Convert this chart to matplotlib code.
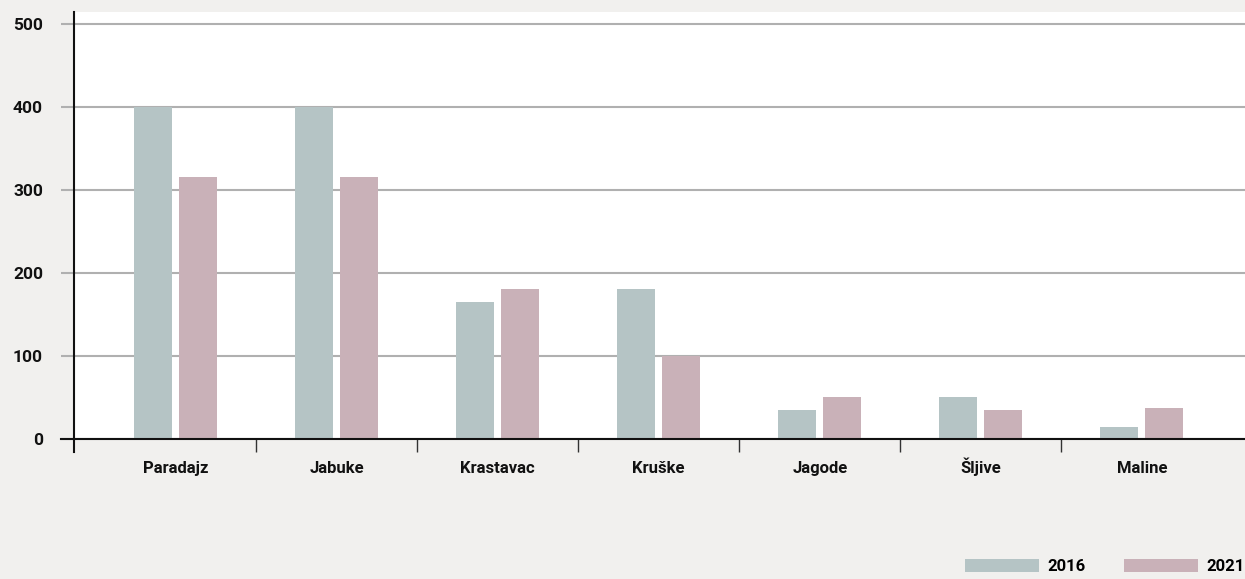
import numpy as np
import matplotlib
matplotlib.use('Agg')
from matplotlib import pyplot as plt
from matplotlib.patches import Patch

# data
categories = ['Paradajz', 'Jabuke', 'Krastavac', 'Kruške', 'Jagode', 'Šljive', 'Maline']
values_2016 = [400, 400, 165, 180, 35, 50, 14]
values_2021 = [315, 315, 180, 100, 50, 35, 37]
series_names = ['2016', '2021']
yticks = [0, 100, 200, 300, 400, 500]

col_2016 = '#b5c4c5'
col_2021 = '#c9b1b8'
bg = '#f1f0ee'

plt.rcParams['font.family'] = ['Roboto', 'DejaVu Sans']
plt.rcParams['font.size'] = 12
fw = 'semibold'

W, H = 1245, 579
fig = plt.figure(figsize=(W/100, H/100), dpi=100, facecolor=bg)
ax = fig.add_axes([74/W, (H-439)/H, (W-74)/W, (439-12)/H])
ax.set_facecolor('white')

x = np.arange(len(categories))
bw = 0.236
off = 0.14
ax.bar(x - off, values_2016, bw, color=col_2016, zorder=2)
ax.bar(x + off, values_2021, bw, color=col_2021, zorder=2)

ax.set_xlim(-0.63, 6.64)
ax.set_ylim(0, 514)

# grid
ax.set_yticks(yticks)
ax.yaxis.grid(True, color='#b0b0b0', lw=1.5, zorder=1)
ax.tick_params(axis='y', length=9.4, width=1.5, color='#b0b0b0', pad=13,
               labelsize=12.5, labelcolor='#111111')
for lab in ax.get_yticklabels():
    lab.set_fontweight(fw)

# category labels and boundary ticks
ax.set_xticks(x)
ax.set_xticklabels(categories, fontweight=fw, color='#111111', va='baseline')
ax.tick_params(axis='x', which='major', length=0, pad=24.5, labelsize=12)
ax.set_xticks(np.arange(0.5, len(categories) - 1, 1), minor=True)
ax.tick_params(axis='x', which='minor', length=9.4, width=1, color='#333333')

for s in ['top', 'right', 'left']:
    ax.spines[s].set_visible(False)
ax.spines['bottom'].set_color('#111111')
ax.spines['bottom'].set_linewidth(1.5)
ax.spines['bottom'].set_zorder(3)

# left axis line running below the baseline, and zero line running left
ax.plot([0, 0], [1, -13/427], transform=ax.transAxes, color='#111111',
        lw=1.5, clip_on=False, zorder=4)
ax.plot([-13/1171, 0], [0, 0], transform=ax.transAxes, color='#111111',
        lw=1.5, clip_on=False, zorder=4)

handles = [Patch(facecolor=col_2016, edgecolor='none'),
           Patch(facecolor=col_2021, edgecolor='none')]
leg = fig.legend(handles, series_names, loc='lower right', ncol=2,
                 bbox_to_anchor=(1.0, 5/H), frameon=False, borderpad=0,
                 borderaxespad=0, handlelength=4.4, handleheight=0.8,
                 handletextpad=0.55, columnspacing=2.3, fontsize=12)
for t in leg.get_texts():
    t.set_fontweight(fw)

fig.savefig('out.png', dpi=100, facecolor=bg)
